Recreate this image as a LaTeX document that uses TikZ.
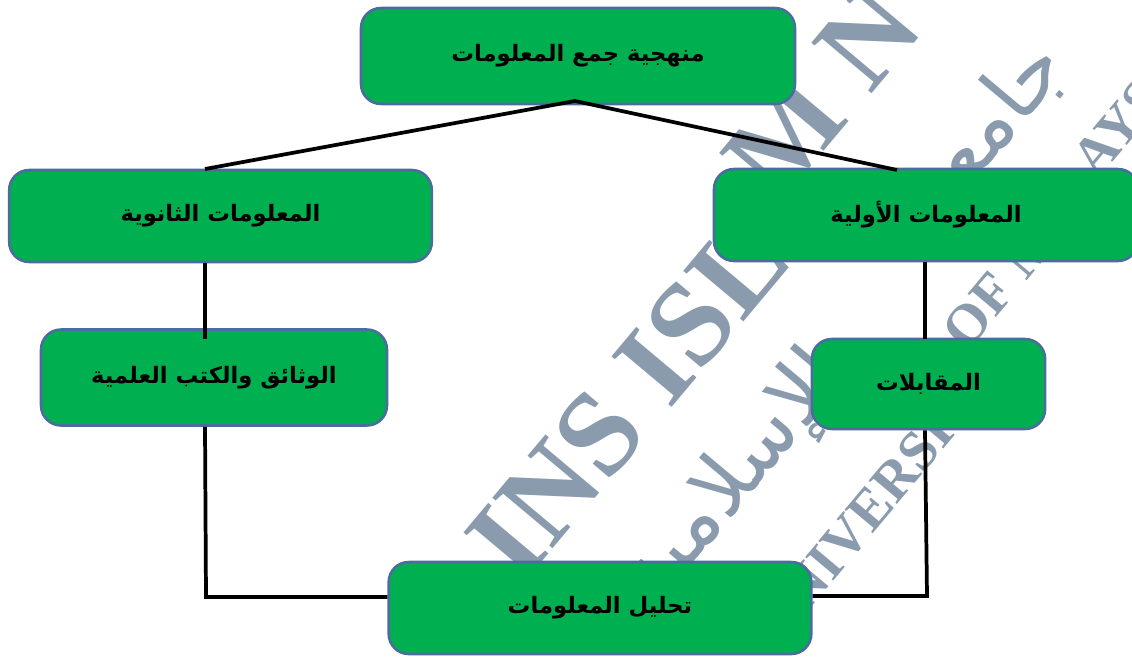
\documentclass[tikz,border=0pt]{standalone}
\usepackage{fontspec}
\usepackage{tikz}
\usetikzlibrary{positioning}
\TeXXeTstate=1
\newfontfamily\arabicfont[Script=Arabic]{DejaVu Sans}
\setmainfont{Liberation Serif}
\definecolor{boxgreen}{HTML}{00B050}
\definecolor{boxblue}{HTML}{4A6C9E}
\definecolor{markgrey}{HTML}{8A9BAD}
\newcommand{\artext}[1]{{\arabicfont\bfseries\beginR #1\endR}}
\newcommand{\armark}[1]{{\arabicfont\beginR #1\endR}}

\begin{document}
\begin{tikzpicture}[x=0.75pt, y=-0.75pt,
    box/.style={draw=boxblue, line width=1.9pt, fill=boxgreen, rounded corners=15pt, inner sep=0pt, font=\fontsize{17}{17}\selectfont},
    link/.style={draw=black, line width=2.8pt},
    bigmark/.style={text=markgrey, rotate=50, font=\bfseries\fontsize{90}{90}\selectfont},
    smallmark/.style={text=markgrey, rotate=50, font=\bfseries\fontsize{42}{42}\selectfont},
    calligraphy/.style={text=markgrey, rotate=50, font=\fontsize{62}{62}\selectfont}]
    \useasboundingbox (0,0) rectangle (1132,657);
    \clip (0,0) rectangle (1132,657);

    % watermark
    \node[bigmark] (wm1) at (600,432) {AINS ISL};
    \node[bigmark] (wm2) at (822,92) {M N};
    \node[smallmark] (wm3) at (868,512) {NIVERSI};
    \node[smallmark] (wm4) at (1000,285) {OF M};
    \node[smallmark] (wm5) at (1118,128) {AYS};
    \node[calligraphy] (wm6) at (735,480) {\armark{الإسلامية}};
    \node[calligraphy] (wm7) at (985,130) {\armark{جامعة}};

    \node[box, minimum width=325.5pt, minimum height=72pt] (method) at (578,56) {\artext{منهجية جمع المعلومات}};
    \node[box, minimum width=317pt, minimum height=69pt] (secondary) at (220.5,216) {\artext{المعلومات الثانوية}};
    \node[box, minimum width=318pt, minimum height=69pt] (primary) at (926,215) {\artext{المعلومات الأولية}};
    \node[box, minimum width=259.5pt, minimum height=72pt] (books) at (214,377.5) {\artext{الوثائق والكتب العلمية}};
    \node[box, minimum width=175pt, minimum height=67.5pt] (interviews) at (928.5,384) {\artext{المقابلات}};
    \node[box, minimum width=317pt, minimum height=69pt] (analysis) at (600,608) {\artext{تحليل المعلومات}};

    \coordinate (apex) at (575,101);
    \coordinate (leftup) at (205,169);
    \coordinate (rightup) at (897,170);
    \coordinate (leftcorner) at (206,597);
    \coordinate (rightcorner) at (927,596);
    \coordinate (rightdrop) at (925,339);

    \draw[link] (leftup) -- (apex) -- (rightup);
    \draw[link, shorten >=-8pt] (secondary.south -| leftup) -- (books.north -| leftup);
    \draw[link] (primary.south -| rightdrop) -- (rightdrop);
    \draw[link] (books.south -| leftup) -- (leftcorner) -- (analysis.west |- leftcorner);
    \draw[link] (interviews.south -| rightdrop) -- (rightcorner) -- (analysis.east |- rightcorner);
\end{tikzpicture}
\end{document}
